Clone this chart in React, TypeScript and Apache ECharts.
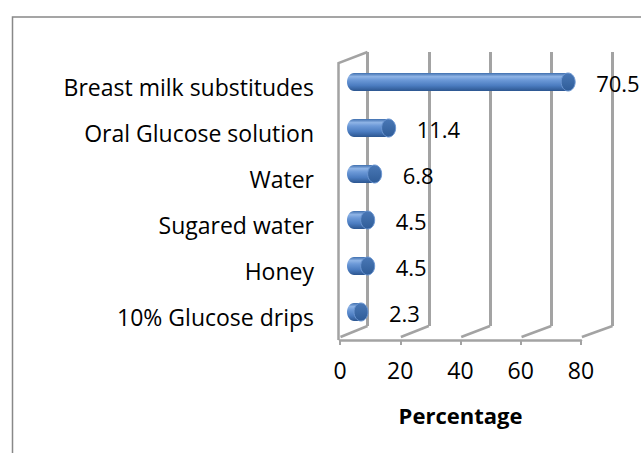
import React, { useEffect, useRef } from "react";
import * as echarts from "echarts";

const categories = [
  "Breast milk substitudes",
  "Oral Glucose solution",
  "Water",
  "Sugared water",
  "Honey",
  "10% Glucose drips",
];
const values = [70.5, 11.4, 6.8, 4.5, 4.5, 2.3];
const valueLabels = ["70.5", "11.4", "6.8", "4.5", "4.5", "2.3"];
const xTicks = [0, 20, 40, 60, 80];
const axisTitle = "Percentage";

const FONT = "Open Sans";
const GRAY = "#a3a3a3";

export default function App() {
  const ref = useRef<HTMLDivElement>(null);

  useEffect(() => {
    if (!ref.current) return;
    const chart = echarts.init(ref.current, undefined, { renderer: "svg" });

    const option: any = {
      animation: false,
      backgroundColor: "#ffffff",
      textStyle: { fontFamily: FONT },
      graphic: [
        {
          type: "rect",
          shape: { x: 12.5, y: 17, width: 700, height: 500 },
          style: { fill: "none", stroke: "#888888", lineWidth: 1.5 },
          silent: true,
        },
      ],
      grid: [
        { left: 340, top: 64, width: 241, height: 276, containLabel: false },
        { left: 367.5, top: 52, width: 245, height: 274, containLabel: false },
        { left: 354, top: 59, width: 243, height: 276, containLabel: false },
      ],
      xAxis: [
        {
          gridIndex: 0,
          type: "value",
          min: 0,
          max: 80,
          interval: 20,
          axisLine: { show: true, lineStyle: { color: GRAY, width: 2.5 } },
          axisTick: { show: true, length: 5, lineStyle: { color: GRAY, width: 2 } },
          axisLabel: { fontSize: 23, color: "#000", fontFamily: FONT, margin: 18 },
          splitLine: { show: false },
          name: axisTitle,
          nameLocation: "middle",
          nameGap: 64,
          nameTextStyle: { fontSize: 22, fontWeight: "bold", color: "#000", fontFamily: FONT },
        },
        {
          gridIndex: 1,
          type: "value",
          min: 0,
          max: 80,
          interval: 20,
          axisLine: { show: false },
          axisTick: { show: false },
          axisLabel: { show: false },
          splitLine: { show: true, lineStyle: { color: GRAY, width: 3 } },
        },
        {
          gridIndex: 2,
          type: "value",
          min: 0,
          max: 80,
          show: false,
          splitLine: { show: false },
        },
      ],
      yAxis: [
        {
          gridIndex: 0,
          type: "category",
          inverse: true,
          data: categories,
          axisLine: { show: false },
          axisTick: { show: false },
          axisLabel: { fontSize: 23, color: "#000", fontFamily: FONT, margin: 26 },
        },
        {
          gridIndex: 1,
          type: "value",
          min: 0,
          max: 1,
          show: false,
          splitLine: { show: false },
        },
        {
          gridIndex: 2,
          type: "category",
          inverse: true,
          data: categories,
          show: false,
        },
      ],
      series: [
        {
          type: "custom",
          xAxisIndex: 1,
          yAxisIndex: 1,
          silent: true,
          data: xTicks.map((v) => [v]),
          renderItem: (params: any, api: any) => {
            const v = api.value(0);
            const b = api.coord([v, 0]);
            const dx = 27 + v * 0.045;
            const children: any[] = [
              {
                type: "line",
                shape: { x1: b[0] - dx, y1: b[1] + 11, x2: b[0], y2: b[1] },
                style: { stroke: GRAY, lineWidth: 2.5 },
              },
            ];
            if (v === 0) {
              const t = api.coord([0, 1]);
              children.push({
                type: "polyline",
                shape: {
                  points: [
                    [t[0], t[1]],
                    [t[0] - 29, t[1] + 11],
                    [t[0] - 29, b[1] + 14],
                  ],
                },
                style: { stroke: GRAY, lineWidth: 2.5, fill: "none" },
              });
            }
            return { type: "group", children };
          },
        },
        {
          type: "custom",
          xAxisIndex: 2,
          yAxisIndex: 2,
          silent: true,
          data: values.map((v, i) => [v, i]),
          renderItem: (params: any, api: any) => {
            const v = api.value(0);
            const i = api.value(1);
            const p0 = api.coord([0, i]);
            const p1 = api.coord([v, i]);
            const h = 18;
            const rx = 7;
            const grad = new echarts.graphic.LinearGradient(0, 0, 0, 1, [
              { offset: 0, color: "#3f6fae" },
              { offset: 0.2, color: "#8fb4e6" },
              { offset: 0.38, color: "#6d9ad8" },
              { offset: 0.7, color: "#4b7cc0" },
              { offset: 1, color: "#2c5690" },
            ]);
            const capGrad = new echarts.graphic.LinearGradient(0, 0, 0, 1, [
              { offset: 0, color: "#4a78b6" },
              { offset: 1, color: "#2f5c98" },
            ]);
            return {
              type: "group",
              children: [
                {
                  type: "ellipse",
                  shape: { cx: p0[0], cy: p0[1], rx, ry: h / 2 },
                  style: { fill: grad },
                },
                {
                  type: "rect",
                  shape: { x: p0[0], y: p0[1] - h / 2, width: p1[0] - p0[0], height: h },
                  style: { fill: grad },
                },
                {
                  type: "ellipse",
                  shape: { cx: p1[0], cy: p1[1], rx, ry: h / 2 },
                  style: { fill: capGrad, stroke: "#6b96d2", lineWidth: 1 },
                },
                {
                  type: "text",
                  style: {
                    x: p1[0] + 28,
                    y: p1[1] + 1,
                    text: valueLabels[i],
                    fill: "#000",
                    font: `22px "${FONT}"`,
                    align: "left",
                    verticalAlign: "middle",
                  },
                },
              ],
            };
          },
        },
      ],
    };

    chart.setOption(option);
    return () => chart.dispose();
  }, []);

  return (
    <div
      ref={ref}
      style={{ position: "absolute", left: 0, top: 0, width: 641, height: 453 }}
    />
  );
}
